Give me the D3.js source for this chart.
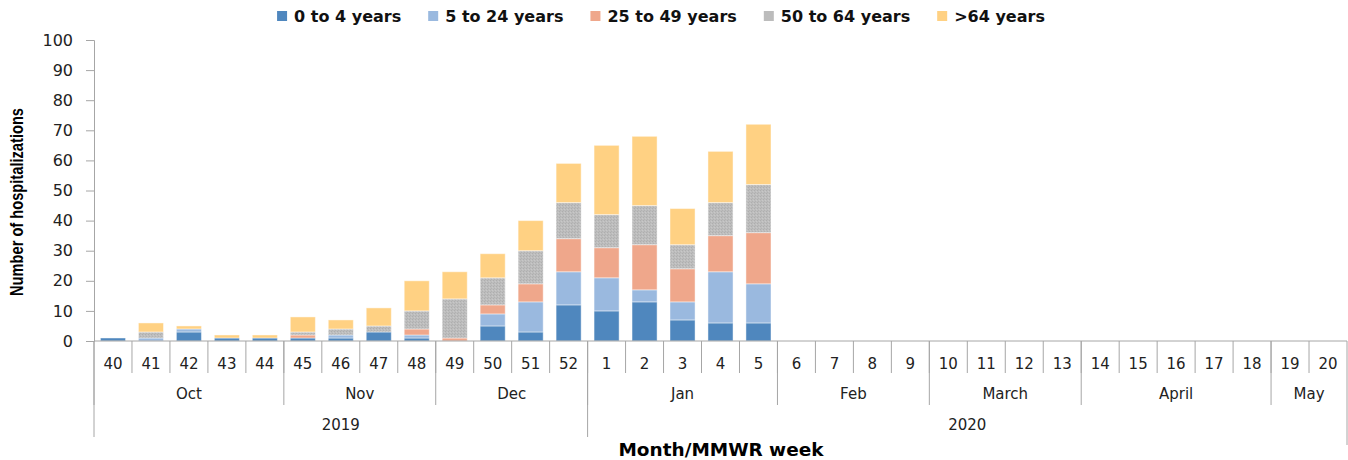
<!DOCTYPE html>
<html>
<head>
<meta charset="utf-8">
<script src="https://cdn.jsdelivr.net/npm/d3@7"></script>
<style>
  body { margin: 0; background: #fff; }
  svg { display: block; }
</style>
</head>
<body>
<div id="chart"></div>
<script>
// Weekly hospitalizations by age group, MMWR week 40 (2019) to week 20 (2020)

const weeks = ["40","41","42","43","44","45","46","47","48","49","50","51","52",
  "1","2","3","4","5","6","7","8","9","10","11","12","13","14","15","16","17","18","19","20"];

const ageGroups = ["0 to 4 years", "5 to 24 years", "25 to 49 years", "50 to 64 years", ">64 years"];

const age0to4   = [1,0,3,1,1,1,1,3,1,0,5,3,12,10,13,7,6,6,0,0,0,0,0,0,0,0,0,0,0,0,0,0,0];
const age5to24  = [0,1,1,0,0,0,1,0,1,0,4,10,11,11,4,6,17,13,0,0,0,0,0,0,0,0,0,0,0,0,0,0,0];
const age25to49 = [0,0,0,0,0,1,0,0,2,1,3,6,11,10,15,11,12,17,0,0,0,0,0,0,0,0,0,0,0,0,0,0,0];
const age50to64 = [0,2,0,0,0,1,2,2,6,13,9,11,12,11,13,8,11,16,0,0,0,0,0,0,0,0,0,0,0,0,0,0,0];
const age65plus = [0,3,1,1,1,5,3,6,10,9,8,10,13,23,23,12,17,20,0,0,0,0,0,0,0,0,0,0,0,0,0,0,0];

const monthLabels = ["Oct","Nov","Dec","Jan","Feb","March","April","May"];
const monthSpans  = [5,4,4,5,4,4,5,2];
const yearLabels  = ["2019","2020"];
const yearSpans   = [13,20];

const yTicks = [0,10,20,30,40,50,60,70,80,90,100];

const colors = ["#4f87be", "#9ab9df", "#efa78b", "url(#grayTex)", "#ffd183"];
const legendColors = ["#4f87be", "#9ab9df", "#efa78b", "#bcbcbc", "#ffd183"];

const width = 1348, height = 460;
const margin = { top: 40, right: 1, bottom: 119, left: 94 };
const innerW = width - margin.left - margin.right;
const innerH = height - margin.top - margin.bottom;
const axisColor = "#a6a6a6";
const tickFont = "'DejaVu Sans', sans-serif";

const table = weeks.map((w, i) => ({
  week: w,
  "0 to 4 years": age0to4[i],
  "5 to 24 years": age5to24[i],
  "25 to 49 years": age25to49[i],
  "50 to 64 years": age50to64[i],
  ">64 years": age65plus[i]
}));
const stacked = d3.stack().keys(ageGroups)(table);

const svg = d3.select("#chart").append("svg")
  .attr("width", width)
  .attr("height", height);

// texture for the grey series
const defs = svg.append("defs");
const pat = defs.append("pattern")
  .attr("id", "grayTex")
  .attr("patternUnits", "userSpaceOnUse")
  .attr("width", 3).attr("height", 3);
pat.append("rect").attr("width", 3).attr("height", 3).attr("fill", "#bdbdbd");
pat.append("rect").attr("x", 0).attr("y", 0).attr("width", 1).attr("height", 1).attr("fill", "#aeaeae");
pat.append("rect").attr("x", 2).attr("y", 1).attr("width", 1).attr("height", 1).attr("fill", "#c8c8c8");
pat.append("rect").attr("x", 1).attr("y", 2).attr("width", 1).attr("height", 1).attr("fill", "#b2b2b2");

const g = svg.append("g").attr("transform", `translate(${margin.left},${margin.top})`);

const x = d3.scaleBand().domain(weeks).range([0, innerW]).padding(0);
const y = d3.scaleLinear().domain([0, 100]).range([innerH, 0]);
const barW = x.bandwidth() * 0.66;

// Y axis
const yAxis = g.append("g")
  .call(d3.axisLeft(y).tickValues(yTicks).tickSize(8).tickPadding(13));
yAxis.select(".domain").attr("stroke", axisColor);
yAxis.selectAll(".tick line").attr("stroke", axisColor);
yAxis.selectAll(".tick text")
  .attr("fill", "#222")
  .style("font-family", tickFont)
  .style("font-size", "16px");

// Bars
g.append("g").selectAll("g")
  .data(stacked)
  .join("g")
  .attr("fill", (d, i) => colors[i])
  .selectAll("rect")
  .data(d => d.filter(s => s[1] - s[0] > 0))
  .join("rect")
  .attr("x", d => x(d.data.week) + (x.bandwidth() - barW) / 2)
  .attr("y", d => y(d[1]))
  .attr("width", barW)
  .attr("height", d => y(d[0]) - y(d[1]))
  .attr("stroke", "#ffffff")
  .attr("stroke-opacity", 0.45)
  .attr("stroke-width", 1);

// X baseline
g.append("line")
  .attr("x1", 0).attr("x2", innerW)
  .attr("y1", innerH).attr("y2", innerH)
  .attr("stroke", axisColor);

// Multi-level category axis
const weekRow = 23, monthRow = 53, yearRow = 84;
const xa = g.append("g").attr("transform", `translate(0,${innerH})`);

// week separators
weeks.forEach((w, i) => {
  if (i > 0) {
    xa.append("line")
      .attr("x1", x(w)).attr("x2", x(w))
      .attr("y1", 0).attr("y2", 32)
      .attr("stroke", axisColor);
  }
  xa.append("text")
    .attr("x", x(w) + x.bandwidth() / 2)
    .attr("y", weekRow)
    .attr("dy", "0.35em")
    .attr("text-anchor", "middle")
    .style("font-family", tickFont)
    .style("font-size", "15px")
    .attr("fill", "#222")
    .text(w);
});

// month groups
let idx = 0;
monthLabels.forEach((m, k) => {
  const x0 = x(weeks[idx]);
  const x1 = idx + monthSpans[k] < weeks.length ? x(weeks[idx + monthSpans[k]]) : innerW;
  xa.append("line")
    .attr("x1", x0).attr("x2", x0)
    .attr("y1", 0).attr("y2", 64)
    .attr("stroke", axisColor);
  xa.append("text")
    .attr("x", (x0 + x1) / 2)
    .attr("y", monthRow)
    .attr("dy", "0.35em")
    .attr("text-anchor", "middle")
    .style("font-family", tickFont)
    .style("font-size", "15px")
    .attr("fill", "#222")
    .text(m);
  idx += monthSpans[k];
});

// year groups
idx = 0;
yearLabels.forEach((yr, k) => {
  const x0 = x(weeks[idx]);
  const x1 = idx + yearSpans[k] < weeks.length ? x(weeks[idx + yearSpans[k]]) : innerW;
  xa.append("line")
    .attr("x1", x0).attr("x2", x0)
    .attr("y1", 0).attr("y2", 96)
    .attr("stroke", axisColor);
  xa.append("text")
    .attr("x", (x0 + x1) / 2)
    .attr("y", yearRow)
    .attr("dy", "0.35em")
    .attr("text-anchor", "middle")
    .style("font-family", tickFont)
    .style("font-size", "15px")
    .attr("fill", "#222")
    .text(yr);
  idx += yearSpans[k];
});
xa.append("line")
  .attr("x1", innerW).attr("x2", innerW)
  .attr("y1", 0).attr("y2", 104)
  .attr("stroke", axisColor);

// Axis titles
svg.append("text")
  .attr("x", 721)
  .attr("y", 456)
  .attr("text-anchor", "middle")
  .style("font-family", "'DejaVu Sans', sans-serif")
  .style("font-weight", "bold")
  .style("font-size", "17px")
  .attr("textLength", 205)
  .attr("lengthAdjust", "spacingAndGlyphs")
  .text("Month/MMWR week");

svg.append("text")
  .attr("transform", "translate(23,202) rotate(-90)")
  .attr("text-anchor", "middle")
  .style("font-family", "'Liberation Sans Narrow', 'Arial Narrow', 'Liberation Sans', sans-serif")
  .style("font-weight", "bold")
  .style("font-size", "18px")
  .attr("textLength", 188)
  .attr("lengthAdjust", "spacingAndGlyphs")
  .text("Number of hospitalizations");

// Legend
const legend = svg.append("g");
let lx = 0;
ageGroups.forEach((name, i) => {
  const item = legend.append("g").attr("transform", `translate(${lx},0)`);
  item.append("rect")
    .attr("x", 0).attr("y", 11)
    .attr("width", 10).attr("height", 10)
    .attr("fill", legendColors[i]);
  const t = item.append("text")
    .attr("x", 17).attr("y", 22)
    .style("font-family", "'DejaVu Sans', sans-serif")
    .style("font-weight", "bold")
    .style("font-size", "16px")
    .attr("fill", "#111")
    .text(name);
  lx += 17 + t.node().getComputedTextLength() + 27;
});
const legendW = lx - 27;
legend.attr("transform", `translate(${661 - legendW / 2},0)`);
</script>
</body>
</html>
